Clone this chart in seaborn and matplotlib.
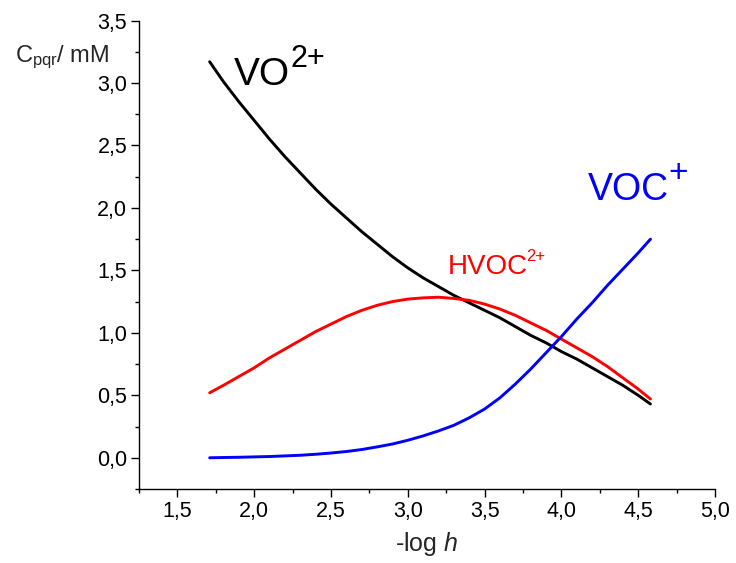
import matplotlib
matplotlib.use("Agg")
import matplotlib.pyplot as plt
from matplotlib.ticker import MultipleLocator, FuncFormatter
import seaborn as sns
import pandas as pd

# -log h grid shared by all species
neg_log_h = [1.71, 1.8, 1.9, 2.0, 2.1, 2.2, 2.3, 2.4, 2.5, 2.6, 2.7, 2.8, 2.9, 3.0, 3.1,
             3.2, 3.3, 3.4, 3.5, 3.6, 3.7, 3.8, 3.9, 4.0, 4.1, 4.2, 4.3, 4.4, 4.5, 4.58]

# concentrations (mM)
c_vo = [3.17, 3.01, 2.85, 2.70, 2.55, 2.41, 2.28, 2.15, 2.03, 1.92, 1.81, 1.71, 1.61, 1.52, 1.44,
        1.37, 1.30, 1.24, 1.18, 1.12, 1.05, 0.98, 0.92, 0.85, 0.79, 0.72, 0.65, 0.58, 0.50, 0.43]
c_hvoc = [0.52, 0.58, 0.65, 0.72, 0.80, 0.87, 0.94, 1.01, 1.07, 1.13, 1.18, 1.22, 1.25, 1.27, 1.28,
          1.285, 1.275, 1.26, 1.23, 1.19, 1.14, 1.08, 1.02, 0.95, 0.88, 0.81, 0.73, 0.64, 0.55, 0.47]
c_voc = [0.0, 0.002, 0.004, 0.007, 0.01, 0.015, 0.02, 0.028, 0.038, 0.05, 0.066, 0.087, 0.11, 0.14, 0.175,
         0.215, 0.26, 0.32, 0.39, 0.48, 0.59, 0.71, 0.84, 0.97, 1.11, 1.24, 1.38, 1.51, 1.64, 1.75]

series = [("VO2+", c_vo, "black"), ("HVOC2+", c_hvoc, "#ff0000"), ("VOC+", c_voc, "#0000ff")]

sns.set_style("ticks")
plt.rcParams["font.family"] = ["Liberation Sans", "DejaVu Sans"]
plt.rcParams["mathtext.fontset"] = "custom"
plt.rcParams["mathtext.rm"] = "Liberation Sans"
plt.rcParams["mathtext.it"] = "Liberation Sans:italic"

fig = plt.figure(figsize=(7.36, 5.63), dpi=100)
ax = fig.add_axes([139 / 736, 1 - 489 / 563, (715 - 139) / 736, (489 - 20.5) / 563])

for name, vals, col in series:
    df = pd.DataFrame({"x": neg_log_h, "y": vals})
    sns.lineplot(data=df, x="x", y="y", color=col, lw=2.1, ax=ax, sort=False)

ax.set_xlim(1.25, 5.0)
ax.set_ylim(-0.25, 3.5)
sns.despine(ax=ax)
for sp in ("left", "bottom"):
    ax.spines[sp].set_linewidth(1.0)
    ax.spines[sp].set_color("black")

comma = FuncFormatter(lambda v, p: f"{v:.1f}".replace(".", ","))
ax.xaxis.set_major_locator(MultipleLocator(0.5))
ax.xaxis.set_minor_locator(MultipleLocator(0.25))
ax.yaxis.set_major_locator(MultipleLocator(0.5))
ax.yaxis.set_minor_locator(MultipleLocator(0.25))
ax.xaxis.set_major_formatter(comma)
ax.yaxis.set_major_formatter(comma)
ax.tick_params(which="major", length=5.5, width=1.0, color="black", labelsize=15.5, labelcolor="black")
ax.tick_params(which="minor", length=3, width=1.0, color="black")
ax.tick_params(axis="y", pad=3)
ax.tick_params(axis="x", pad=3)

ax.set_xlabel(r"-log $\mathit{h}$", fontsize=18, labelpad=6)
ax.set_ylabel("")
fig.text(15 / 736, 1 - 62 / 563, r"$\mathregular{C_{pqr}/\ mM}$", fontsize=17,
         ha="left", va="baseline")

# species labels
t1 = ax.text(1.87, 2.98, "VO", fontsize=28, color="black", ha="left", va="baseline")
ax.annotate("2+", xy=(1.0, 0.55), xycoords=t1, fontsize=22, color="black",
            ha="left", va="bottom")
t2 = ax.text(4.17, 2.06, "VOC", fontsize=27, color="#0000ff", ha="left", va="baseline")
ax.annotate("+", xy=(1.0, 0.55), xycoords=t2, fontsize=24, color="#0000ff",
            ha="left", va="bottom")
t3 = ax.text(3.26, 1.47, "HVOC", fontsize=20, color="#ff0000", ha="left", va="baseline")
ax.annotate("2+", xy=(0.98, 0.62), xycoords=t3, fontsize=12, color="#ff0000",
            ha="left", va="bottom")

fig.savefig("out.png", dpi=100)
